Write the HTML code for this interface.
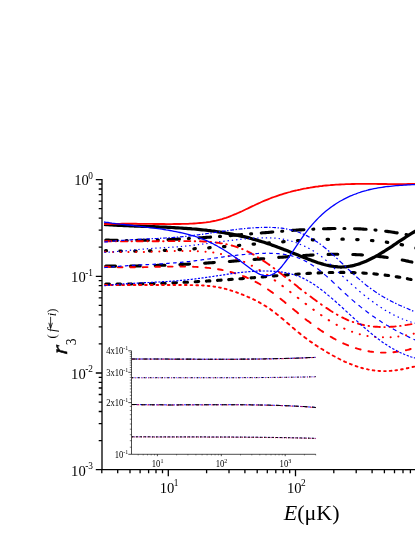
<!DOCTYPE html>
<html><head><meta charset="utf-8"><title>r3 vs E</title>
<style>
html,body{margin:0;padding:0;background:#fff;}
body{width:415px;height:537px;overflow:hidden;}
svg{display:block;font-family:"Liberation Serif",serif;will-change:transform;}
text{fill:#000;}
</style></head><body>
<svg width="415" height="537" viewBox="0 0 415 537">
<rect width="415" height="537" fill="#fff"/>
<g fill="none" stroke-linejoin="round">
<path d="M105.8 240.1L107.3 240.1L108.7 240.1L110.1 240.2L111.5 240.2L113 240.3L114.4 240.3L115.8 240.3L117.3 240.4M126.2 240.5L127.2 240.5M136.9 240.4L138.4 240.4L139.8 240.4L141.2 240.4L142.6 240.4L144.1 240.3L145.5 240.3L146.9 240.3L148.4 240.3M157.3 240L158.3 240M168 239.6L169.5 239.6L170.9 239.5L172.3 239.4L173.7 239.4L175.2 239.3L176.6 239.2L178 239.1L179.5 239.1M188.4 238.6L189.4 238.5M199.1 237.9L200.6 237.8L202 237.7L203.4 237.6L204.8 237.5L206.3 237.4L207.7 237.3L209.1 237.2L210.6 237.1M219.5 236.4L220.5 236.4M230.2 235.6L231.7 235.5L233.1 235.3L234.5 235.2L235.9 235.1L237.4 235L238.8 234.9L240.2 234.8L241.7 234.6M250.6 233.9L251.6 233.8M261.3 233L262.8 232.8L264.2 232.7L265.6 232.6L267 232.5L268.5 232.4L269.9 232.2L271.3 232.1L272.8 232M281.7 231.3L282.7 231.2M292.4 230.4L293.9 230.3L295.3 230.2L296.7 230.1L298.1 230L299.6 229.9L301 229.9L302.4 229.8L303.9 229.7M312.8 229.2L313.8 229.1M323.5 228.7L325 228.7L326.4 228.7L327.8 228.6L329.2 228.6L330.7 228.6L332.1 228.5L333.5 228.5L335 228.5M343.9 228.5L344.9 228.5M354.6 228.7L356.1 228.8L357.5 228.8L358.9 228.9L360.4 228.9L361.8 229L363.2 229.1L364.6 229.2L366.1 229.3M375 230L376 230.1M385.7 231.2L387.2 231.4L388.6 231.6L390 231.8L391.5 232L392.9 232.2L394.3 232.4L395.7 232.7L397.2 232.9M406.1 234.6L407.1 234.8M416.6 237L416.7 237" stroke="#000" stroke-width="3.1" stroke-linecap="round"/>
<path d="M105.6 250.7L106.5 250.7M119.9 251L121.3 251.1M134.7 251.1L136.1 251.1M149.5 250.9L150.9 250.8M164.3 250.4L165.7 250.3M179.1 249.7L180.5 249.6M193.9 248.8L195.3 248.7M208.7 247.8L210.1 247.7M223.5 246.7L224.9 246.6M238.3 245.5L239.7 245.4M253.1 244.2L254.5 244.1M267.9 243L269.3 242.9M282.7 241.8L284.1 241.7M297.5 240.7L298.9 240.6M312.3 239.8L313.7 239.8M327.1 239.3L328.5 239.3M341.9 239.2L343.3 239.2M356.7 239.6L358.1 239.6M371.5 240.5L372.9 240.7M386.3 242.2L387.7 242.4M401.1 244.6L402.5 244.9M415.9 248L416.5 248.1" stroke="#000" stroke-width="3.2" stroke-linecap="round"/>
<path d="M105.8 266L107.2 266L108.6 266L110 266.1L111.3 266.1L112.7 266.1L114.1 266.1L115.5 266.1M130.5 266L131.9 266L133.3 266L134.7 266L136 266L137.4 266L138.8 265.9L140.2 265.9M155.2 265.5L156.6 265.5L158 265.4L159.4 265.4L160.7 265.3L162.1 265.3L163.5 265.2L164.9 265.2M179.9 264.5L181.3 264.5L182.7 264.4L184.1 264.3L185.4 264.3L186.8 264.2L188.2 264.1L189.6 264M204.6 263.2L206 263.1L207.4 263L208.8 262.9L210.1 262.8L211.5 262.7L212.9 262.6L214.3 262.5M229.3 261.5L230.7 261.4L232.1 261.2L233.5 261.1L234.8 261L236.2 260.9L237.6 260.8L239 260.7M254 259.5L255.4 259.4L256.8 259.3L258.2 259.2L259.5 259.1L260.9 258.9L262.3 258.8L263.7 258.7M278.7 257.4L280.1 257.3L281.5 257.2L282.9 257.1L284.2 257L285.6 256.9L287 256.8L288.4 256.6M303.4 255.5L304.8 255.5L306.2 255.4L307.6 255.3L308.9 255.2L310.3 255.1L311.7 255.1L313.1 255M328.1 254.4L329.5 254.4L330.9 254.3L332.3 254.3L333.6 254.3L335 254.3L336.4 254.3L337.8 254.3M352.8 254.5L354.2 254.5L355.6 254.6L357 254.7L358.3 254.7L359.7 254.8L361.1 254.9L362.5 255M377.5 256.3L378.9 256.4L380.3 256.6L381.7 256.8L383 256.9L384.4 257.1L385.8 257.3L387.2 257.5M402.2 260L403.6 260.3L405 260.6L406.4 260.9L407.7 261.1L409.1 261.5L410.5 261.8L411.9 262.1" stroke="#000" stroke-width="3.1" stroke-linecap="round"/>
<path d="M105.8 284L107 284L108.2 284L109.4 284.1M117 284.1L118.2 284.1L119.4 284.1L120.5 284.1M128.2 284.1L129.4 284L130.5 284L131.7 284M139.4 283.9L140.5 283.9L141.7 283.9L142.9 283.8M150.5 283.7L151.7 283.6L152.9 283.6L154 283.6M161.7 283.3L162.9 283.3L164 283.2L165.2 283.2M172.9 282.9L174 282.8L175.2 282.8L176.4 282.7M184 282.3L185.2 282.3L186.4 282.2L187.5 282.2M195.2 281.8L196.4 281.7L197.5 281.6L198.7 281.5M206.4 281.1L207.5 281L208.7 280.9L209.9 280.9M217.5 280.4L218.7 280.3L219.9 280.2L221.1 280.1M228.7 279.6L229.9 279.5L231.1 279.4L232.2 279.3M239.9 278.7L241.1 278.7L242.2 278.6L243.4 278.5M251.1 277.9L252.2 277.8L253.4 277.7L254.6 277.6M262.2 277L263.4 276.9L264.6 276.8L265.7 276.7M273.4 276L274.6 275.9L275.7 275.8L276.9 275.7M284.6 275.1L285.7 275L286.9 274.9L288.1 274.8M295.7 274.3L296.9 274.2L298.1 274.1L299.2 274M306.9 273.5L308.1 273.4L309.2 273.4L310.4 273.3M318.1 272.9L319.2 272.9L320.4 272.8L321.6 272.8M329.2 272.5L330.4 272.5L331.6 272.5L332.8 272.5M340.4 272.4L341.6 272.4L342.8 272.4L343.9 272.4M351.6 272.5L352.8 272.6L353.9 272.6L355.1 272.7M362.8 273L363.9 273.1L365.1 273.2L366.3 273.2M373.9 273.8L375.1 274L376.3 274.1L377.4 274.2M385.1 275.1L386.3 275.2L387.4 275.4L388.6 275.5M396.2 276.7L397.4 276.9L398.6 277.1L399.8 277.3M407.4 278.7L408.6 279L409.8 279.2L411 279.5M417.5 280.9L417.6 281" stroke="#000" stroke-width="3.1" stroke-linecap="round"/>
<path d="M104 224.5L106 224.6L108 224.7L110 224.9L112 225L114 225.1L116 225.2L118 225.3L120 225.4L122 225.5L124 225.6L126 225.7L128 225.7L130 225.8L132 225.9L134 226L136 226L138 226.1L140 226.2L142 226.3L144 226.3L146 226.4L148 226.5L150 226.6L152 226.6L154 226.7L156 226.8L158 226.9L160 227L162 227L164 227.1L166 227.2L168 227.3L170 227.4L172 227.5L174 227.6L176 227.8L178 227.9L180 228L182 228.1L184 228.3L186 228.4L188 228.6L190 228.7L192 228.9L194 229L196 229.2L198 229.4L200 229.6L202 229.8L204 230L206 230.2L208 230.5L210 230.7L212 231L214 231.2L216 231.5L218 231.8L220 232.1L222 232.4L224 232.7L226 233.1L228 233.4L230 233.8L232 234.2L234 234.6L236 235L238 235.4L240 235.8L242 236.3L244 236.7L246 237.2L248 237.7L250 238.2L252 238.8L254 239.3L256 239.9L258 240.5L260 241.1L262 241.7L264 242.3L266 243L268 243.7L270 244.3L272 245.1L274 245.8L276 246.5L278 247.3L280 248L282 248.8L284 249.6L286 250.3L288 251.1L290 251.9L292 252.7L294 253.5L296 254.3L298 255.1L300 255.9L302 256.7L304 257.5L306 258.3L308 259.1L310 259.8L312 260.6L314 261.3L316 262L318 262.7L320 263.3L322 263.9L324 264.5L326 265L328 265.4L330 265.8L332 266.2L334 266.5L336 266.7L338 266.9L340 267L342 267L344 266.9L346 266.8L348 266.5L350 266.2L352 265.8L354 265.4L356 264.8L358 264.2L360 263.6L362 262.8L364 262L366 261.2L368 260.3L370 259.3L372 258.3L374 257.3L376 256.2L378 255.1L380 253.9L382 252.7L384 251.5L386 250.2L388 248.9L390 247.6L392 246.3L394 244.9L396 243.6L398 242.2L400 240.9L402 239.6L404 238.3L406 237L408 235.7L410 234.4L412 233.2L414 232L416 230.9L418 229.8" stroke="#000" stroke-width="3.25"/>
<path d="M105.2 241.2L106.7 241.3L108.2 241.3L109.8 241.3L111.3 241.3M115.7 241.3L116.2 241.3M121 241.4L122.5 241.4L124 241.4L125.6 241.4L127.1 241.4M131.5 241.3L132 241.3M136.8 241.3L138.3 241.3L139.8 241.3L141.4 241.3L142.9 241.3M147.3 241.3L147.8 241.3M152.6 241.2L154.1 241.2L155.6 241.2L157.2 241.2L158.7 241.2M163.1 241.2L163.6 241.2M168.4 241.1L169.9 241.1L171.4 241.1L173 241.1L174.5 241.1M178.9 241.1L179.4 241.1M184.2 241.1L185.7 241.1L187.2 241.1L188.8 241.1L190.3 241.1M194.7 241.2L195.2 241.2M200 241.3L201.5 241.4L203.1 241.5L204.6 241.5L206.1 241.6M210.5 242L211 242M215.8 242.5L217.3 242.7L218.9 242.9L220.4 243.2L221.9 243.4M226.3 244.3L226.8 244.4M231.6 245.5L233.1 245.9L234.7 246.4L236.2 246.9L237.7 247.4M242.1 249L242.6 249.2M247.3 251.3L248.9 252.1L250.5 252.9L252 253.8L253.6 254.6M257.8 257.2L258.5 257.6M263.1 260.6L264.7 261.6L266.3 262.7L267.8 263.8L269.4 264.9M273.6 268L274.3 268.5M278.9 271.9L280.5 273.2L282.1 274.4L283.6 275.7L285.2 276.9M289.3 280.1L290.2 280.8M294.6 284.3L295.9 285.3L297.2 286.3L298.5 287.4L299.8 288.4L301.1 289.4M305.2 292.6L305.9 293.2M310.5 296.6L312.1 297.8L313.7 299L315.2 300.1L316.8 301.3M321 304.2L321.7 304.8M326.3 307.9L327.9 308.9L329.5 310L331 311L332.6 312M336.8 314.5L337.5 314.9M342.2 317.4L343.7 318.2L345.3 318.9L346.8 319.6L348.3 320.3M352.7 321.9L353.2 322.1M358 323.6L359.5 324.1L361.1 324.4L362.6 324.8L364.1 325.1M368.5 325.9L369 326M373.8 326.6L375.3 326.7L376.9 326.8L378.4 326.9L379.9 327M384.3 327.1L384.8 327.1M389.6 326.9L391.1 326.8L392.7 326.7L394.2 326.6L395.7 326.4M400.1 325.9L400.6 325.9M405.4 325.1L406.9 324.9L408.5 324.6L410 324.4L411.5 324.1M415.9 323.1L416.4 323" stroke="#f00" stroke-width="1.9" stroke-linecap="round"/>
<path d="M105.3 251.8L105.4 251.8M113 252L113.1 252M120.7 252.1L120.8 252.1M128.4 252.1L128.5 252.1M136.1 252.1L136.2 252.1M143.8 252L144 252M151.6 251.8L151.7 251.8M159.3 251.5L159.4 251.5M167 251.3L167.1 251.3M174.7 251.1L174.8 251.1M182.4 251L182.5 251M190.1 251L190.2 251M197.8 251.2L197.9 251.2M205.5 251.7L205.6 251.7M213.2 252.6L213.4 252.6M220.9 254L221.1 254M228.6 256L228.8 256.1M236.3 258.6L236.5 258.7M244 261.9L244.3 262M251.7 265.7L252 265.8M259.4 270L259.7 270.2M267 274.9L267.5 275.2M274.7 280.2L275.2 280.6M282.4 285.9L282.9 286.3M290.1 291.8L290.6 292.2M297.8 297.7L298.4 298.2M305.6 303.7L306.1 304.1M313.3 309.5L313.8 309.9M321 315L321.5 315.3M328.7 320.1L329.1 320.4M336.5 324.7L336.8 324.9M344.2 328.6L344.5 328.7M352 331.8L352.2 331.8M359.7 334.2L359.9 334.2M367.4 335.9L367.6 335.9M375.1 336.9L375.3 336.9M382.9 337.3L383 337.3M390.6 337.2L390.7 337.2M398.3 336.5L398.4 336.5M406 335.3L406.1 335.3M413.7 333.7L413.8 333.6" stroke="#f00" stroke-width="2.0" stroke-linecap="round"/>
<path d="M105.2 266.6L106.8 266.7L108.4 266.8L110 266.9M117.8 267.2L119.3 267.2L120.9 267.2L122.5 267.3M130.3 267.3L131.9 267.3L133.4 267.3L135 267.3M142.8 267.2L144.4 267.1L146 267.1L147.5 267.1M155.4 266.9L156.9 266.8L158.5 266.8L160.1 266.8M167.9 266.6L169.5 266.6L171 266.6L172.6 266.6M180.4 266.5L182 266.6L183.6 266.6L185.1 266.6M193 266.8L194.5 266.9L196.1 266.9L197.7 267M205.5 267.6L207.1 267.8L208.6 267.9L210.2 268.1M218 269.2L219.6 269.5L221.2 269.8L222.7 270.1M230.5 272L232.1 272.4L233.7 272.9L235.3 273.4M243 276.1L244.2 276.5L245.4 277L246.6 277.5L247.9 278.1M255.5 281.8L256.7 282.4L258 283.1L259.2 283.8L260.4 284.5M268 289.4L269.2 290.3L270.5 291.2L271.8 292.1L273 293M280.5 298.7L281.7 299.7L283 300.8L284.3 301.8L285.6 302.9M293 309L294.3 310L295.5 311.1L296.8 312.1L298.1 313.2M305.5 319.2L306.8 320.2L308.1 321.1L309.4 322.1L310.6 323.1M318.1 328.5L319.4 329.4L320.6 330.3L321.9 331.1L323.1 331.9M330.7 336.7L331.9 337.4L333.1 338.1L334.4 338.8L335.6 339.5M343.2 343.3L344.5 343.9L345.7 344.4L346.9 344.9L348.1 345.4M355.8 348.2L357.4 348.7L359 349.1L360.6 349.5M368.4 351.2L369.9 351.5L371.5 351.7L373.1 351.9M380.9 352.6L382.5 352.6L384 352.6L385.6 352.6M393.4 352.2L395 352L396.6 351.9L398.1 351.6M405.9 350.2L407.5 349.9L409.1 349.5L410.7 349M417.7 346.9L417.8 346.9" stroke="#f00" stroke-width="1.9" stroke-linecap="round"/>
<path d="M105.2 285L106.1 285L107 285M110.9 285L111.8 285L112.6 285M116.6 285L117.5 285L118.3 285M122.3 285L123.2 285L124 285M128 285L128.9 285L129.7 285M133.7 285L134.6 285L135.4 285M139.4 285L140.2 285L141.1 285M145.1 285L145.9 285L146.8 285M150.8 285L151.6 285L152.5 285M156.5 285L157.3 285L158.2 285M162.1 285L163 285L163.9 285M167.8 285L168.7 285L169.5 285M173.5 285L174.4 285L175.2 285M179.2 285L180.1 285L180.9 285M184.9 285L185.8 285L186.6 285M190.6 285.1L191.4 285.1L192.3 285.1M196.3 285.2L197.1 285.2L198 285.3M202 285.4L202.8 285.5L203.7 285.5M207.7 285.9L208.5 286L209.4 286M213.4 286.5L214.2 286.6L215.1 286.8M219 287.4L219.9 287.6L220.8 287.8M224.7 288.7L225.6 288.9L226.5 289.2M230.4 290.3L231.3 290.6L232.2 290.9M236.1 292.2L237 292.5L237.9 292.9M241.7 294.3L242.7 294.7L243.6 295.1M247.4 296.7L248.3 297.1L249.3 297.5M253.1 299.2L254 299.7L255 300.1M258.8 302.1L259.7 302.6L260.7 303.2M264.4 305.4L265.4 306L266.4 306.6M270.1 309.1L271.1 309.9L272.1 310.6M275.7 313.3L276.8 314.2L277.9 315M281.4 317.9L282.5 318.8L283.6 319.7M287.1 322.8L288.2 323.7L289.3 324.6M292.8 327.7L293.9 328.6L294.9 329.5M298.5 332.5L299.6 333.3L300.6 334.2M304.2 337L305.2 337.8L306.3 338.6M309.9 341.2L310.9 341.9L312 342.6M315.6 345.1L316.6 345.8L317.6 346.4M321.3 348.7L322.3 349.3L323.3 349.9M327 352.2L328 352.8L329 353.3M332.7 355.5L333.7 356L334.7 356.5M338.4 358.5L339.4 359L340.3 359.5M344.1 361.3L345.1 361.8L346 362.2M349.9 363.8L350.8 364.2L351.7 364.5M355.6 366L356.5 366.3L357.4 366.6M361.3 367.8L362.1 368L363 368.3M367 369.2L367.8 369.4L368.7 369.6M372.7 370.3L373.5 370.4L374.4 370.5M378.4 370.9L379.2 371L380.1 371M384.1 371.1L384.9 371.1L385.8 371.1M389.7 370.9L390.6 370.9L391.5 370.8M395.4 370.4L396.3 370.2L397.1 370.1M401.1 369.5L402 369.3L402.8 369.2M406.8 368.3L407.7 368.2L408.5 368M412.5 367L413.4 366.8L414.2 366.6M417.6 365.7L417.7 365.7" stroke="#f00" stroke-width="1.9" stroke-linecap="round"/>
<path d="M104 224.2L106 224.1L108 224L110 224L112 223.9L114 223.9L116 223.8L118 223.8L120 223.8L122 223.7L124 223.7L126 223.7L128 223.7L130 223.7L132 223.7L134 223.7L136 223.7L138 223.8L140 223.8L142 223.8L144 223.8L146 223.9L148 223.9L150 223.9L152 223.9L154 224L156 224L158 224L160 224L162 224L164 224L166 224.1L168 224.1L170 224.1L172 224.1L174 224L176 224L178 224L180 224L182 223.9L184 223.9L186 223.8L188 223.8L190 223.7L192 223.6L194 223.5L196 223.4L198 223.2L200 223L202 222.9L204 222.6L206 222.4L208 222.1L210 221.8L212 221.4L214 221L216 220.6L218 220.1L220 219.6L222 219.1L224 218.4L226 217.8L228 217.1L230 216.3L232 215.5L234 214.7L236 213.9L238 213L240 212.1L242 211.2L244 210.2L246 209.3L248 208.4L250 207.4L252 206.4L254 205.5L256 204.5L258 203.6L260 202.7L262 201.8L264 200.9L266 200.1L268 199.3L270 198.5L272 197.7L274 197L276 196.3L278 195.6L280 194.9L282 194.3L284 193.7L286 193.1L288 192.5L290 192L292 191.4L294 190.9L296 190.5L298 190L300 189.6L302 189.1L304 188.7L306 188.4L308 188L310 187.7L312 187.3L314 187L316 186.7L318 186.5L320 186.2L322 186L324 185.7L326 185.5L328 185.3L330 185.2L332 185L334 184.8L336 184.7L338 184.6L340 184.5L342 184.4L344 184.3L346 184.2L348 184.1L350 184.1L352 184L354 184L356 183.9L358 183.9L360 183.9L362 183.9L364 183.9L366 183.9L368 183.9L370 183.9L372 183.9L374 183.9L376 183.9L378 184L380 184L382 184L384 184L386 184L388 184.1L390 184.1L392 184.1L394 184.1L396 184.1L398 184.1L400 184.1L402 184.1L404 184.1L406 184.1L408 184L410 184L412 184L414 183.9L416 183.9L418 183.8" stroke="#f00" stroke-width="1.8"/>
<path d="M104.3 242.1L105.5 241.9L106.8 241.8L108 241.6M109.6 241.5L110.9 241.3M112.7 241.2L113.9 241L115.2 240.9L116.4 240.8M118 240.7L119.3 240.6M121.1 240.4L122.3 240.4L123.6 240.3L124.8 240.2M126.4 240.1L127.7 240M129.5 239.9L130.7 239.8L132 239.7L133.2 239.7M134.8 239.6L136.1 239.5M137.9 239.4L139.1 239.4L140.4 239.3L141.6 239.2M143.2 239.2L144.5 239.1M146.3 239L147.5 238.9L148.8 238.9L150 238.8M151.6 238.7L152.9 238.7M154.7 238.6L155.9 238.5L157.2 238.5L158.4 238.4M160 238.3L161.3 238.2M163.1 238.1L164.3 238.1L165.6 238L166.8 237.9M168.4 237.8L169.7 237.7M171.5 237.6L172.7 237.5L174 237.4L175.2 237.3M176.8 237.2L178.1 237.1M179.9 236.9L181.1 236.8L182.4 236.7L183.6 236.6M185.2 236.4L186.5 236.3M188.3 236.1L189.5 235.9L190.8 235.8L192 235.6M193.6 235.4L194.9 235.2M196.7 235L197.9 234.8L199.2 234.7L200.4 234.5M202 234.3L203.3 234.1M205.1 233.8L206.3 233.7L207.6 233.5L208.8 233.3M210.4 233.1L211.7 232.9M213.5 232.6L214.7 232.4L216 232.3L217.2 232.1M218.8 231.8L220.1 231.6M221.9 231.4L223.1 231.2L224.4 231L225.6 230.9M227.2 230.6L228.5 230.5M230.3 230.2L231.5 230.1L232.8 229.9L234 229.8M235.6 229.6L236.9 229.4M238.7 229.2L239.9 229L241.2 228.9L242.4 228.8M244 228.6L245.3 228.5M247.1 228.3L248.3 228.2L249.6 228.1L250.8 228M252.4 227.9L253.7 227.8M255.5 227.7L256.7 227.6L258 227.6L259.2 227.5M260.8 227.5L262.1 227.4M263.9 227.4L265.1 227.4L266.4 227.4L267.6 227.4M269.2 227.4L270.5 227.4M272.3 227.5L273.5 227.5L274.8 227.6L276 227.7M277.6 227.8L278.9 227.9M280.7 228.1L281.9 228.2L283.2 228.4L284.4 228.6M286 228.9L287.3 229.1M289.1 229.5L290.3 229.8L291.6 230.1L292.8 230.4M294.4 230.8L295.7 231.2M297.5 231.8L298.7 232.3L300 232.7L301.2 233.2M302.8 233.9L304.1 234.5M305.9 235.3L307.1 235.9L308.4 236.6L309.6 237.2M311.2 238.2L312.5 238.9M314.3 240.1L315.5 240.9L316.8 241.7L318 242.5M319.6 243.7L320.9 244.6M322.7 246L323.9 247L325.2 248L326.4 249M328 250.4L329.3 251.5M331.1 253.1L332.3 254.2L333.6 255.3L334.8 256.4M336.4 257.9L337.7 259.1M339.5 260.8L340.7 262L342 263.2L343.2 264.4M344.8 265.9L346.1 267.1M347.9 268.8L349.1 270L350.4 271.2L351.6 272.3M353.2 273.8L354.5 275M356.3 276.7L357.5 277.8L358.8 278.9L360 279.9M361.6 281.3L362.9 282.4M364.7 283.9L365.9 284.9L367.2 285.9L368.4 286.8M370 288L371.3 289M373.1 290.3L374.3 291.1L375.6 292L376.8 292.8M378.4 293.8L379.7 294.7M381.5 295.8L382.7 296.5L384 297.2L385.2 297.9M386.8 298.8L388.1 299.5M389.9 300.5L391.1 301.1L392.4 301.7L393.6 302.4M395.2 303.1L396.5 303.8M398.3 304.6L399.5 305.2L400.8 305.7L402 306.3M403.6 307L404.9 307.5M406.7 308.3L407.9 308.8L409.2 309.4L410.4 309.9M412 310.6L413.3 311.1M415.1 311.9L416.5 312.5L418 313.1" stroke="#00f" stroke-width="1.2"/>
<path d="M104.3 252.4L105.6 252.3M108.5 252.1L109.8 252.1M112.8 251.9L114.1 251.8M117 251.5L118.3 251.4M121.3 251.1L122.6 251M125.5 250.8L126.8 250.6M129.8 250.3L131.1 250.2M134.1 249.9L135.4 249.8M138.3 249.5L139.6 249.4M142.6 249.2L143.9 249.1M146.8 248.8L148.1 248.7M151.1 248.5L152.4 248.4M155.3 248.2L156.6 248.2M159.6 248L160.9 247.9M163.8 247.7L165.1 247.6M168.1 247.5L169.4 247.4M172.3 247.2L173.6 247.1M176.6 246.9L177.9 246.8M180.8 246.5L182.1 246.4M185.1 246.2L186.4 246M189.3 245.7L190.6 245.6M193.6 245.2L194.9 245.1M197.8 244.7L199.1 244.6M202.1 244.2L203.4 244M206.3 243.6L207.6 243.5M210.6 243.1L211.9 242.9M214.8 242.5L216.1 242.3M219.1 241.9L220.4 241.7M223.3 241.3L224.6 241.2M227.6 240.8L228.9 240.6M231.8 240.3L233.1 240.1M236.1 239.8L237.4 239.6M240.3 239.3L241.6 239.2M244.6 238.9L245.9 238.8M248.8 238.6L250.1 238.5M253.1 238.3L254.4 238.2M257.3 238.1L258.6 238M261.6 237.9L262.9 237.9M265.8 237.9L267.1 237.9M270.1 237.9L271.4 238M274.3 238.1L275.6 238.2M278.6 238.5L279.9 238.7M282.8 239.1L284.1 239.4M287.1 240L288.4 240.3M291.3 241.1L292.6 241.5M295.6 242.5L296.9 243M299.8 244.2L301.1 244.7M304.1 246L305.4 246.6M308.3 248.1L309.6 248.8M312.6 250.5L313.9 251.3M316.8 253.2L318.1 254.1M321.1 256.3L322.4 257.3M325.3 259.8L326.6 260.9M329.6 263.7L330.9 264.9M333.8 267.7L335.1 269M338.1 271.8L339.4 273.1M342.3 275.9L343.6 277.1M346.6 279.8L347.9 281M350.8 283.6L352.1 284.8M355.1 287.4L356.4 288.5M359.3 291.1L360.6 292.2M363.6 294.6L364.9 295.7M367.8 298L369.1 299M372.1 301.2L373.4 302.2M376.3 304.3L377.6 305.2M380.6 307.2L381.9 308.1M384.8 309.9L386.1 310.7M389.1 312.4L390.4 313.1M393.3 314.7L394.6 315.4M397.6 316.8L398.9 317.4M401.8 318.7L403.1 319.2M406.1 320.3L407.4 320.8M410.3 321.8L411.6 322.2M414.6 323.1L415.9 323.4" stroke="#00f" stroke-width="1.2"/>
<path d="M104.3 267.7L105.5 267.5L106.7 267.4L107.9 267.3M111.2 267L112.4 266.9L113.6 266.7L114.8 266.6M118 266.4L119.2 266.3L120.4 266.2L121.6 266.1M124.9 265.9L126.1 265.8L127.3 265.7L128.5 265.6M131.8 265.4L133 265.4L134.2 265.3L135.4 265.2M138.7 265.1L139.9 265L141.1 264.9L142.3 264.9M145.5 264.7L146.7 264.6L147.9 264.6L149.1 264.5M152.4 264.3L153.6 264.3L154.8 264.2L156 264.1M159.3 263.9L160.5 263.9L161.7 263.8L162.9 263.7M166.1 263.5L167.3 263.4L168.5 263.3L169.7 263.2M173 263L174.2 262.9L175.4 262.8L176.6 262.7M179.9 262.4L181.1 262.3L182.3 262.2L183.5 262.1M186.7 261.7L187.9 261.6L189.1 261.5L190.3 261.3M193.6 260.9L194.8 260.8L196 260.6L197.2 260.5M200.5 260.1L201.7 259.9L202.9 259.7L204.1 259.6M207.4 259.1L208.6 259L209.8 258.8L211 258.6M214.2 258.2L215.4 258L216.6 257.8L217.8 257.7M221.1 257.2L222.3 257.1L223.5 256.9L224.7 256.7M228 256.3L229.2 256.2L230.4 256L231.6 255.9M234.8 255.5L236 255.3L237.2 255.2L238.4 255.1M241.7 254.7L242.9 254.6L244.1 254.5L245.3 254.4M248.6 254.1L249.8 254L251 253.9L252.2 253.8M255.4 253.6L256.6 253.6L257.8 253.5L259 253.4M262.3 253.3L263.5 253.3L264.7 253.3L265.9 253.2M269.2 253.2L270.4 253.3L271.6 253.3L272.8 253.3M276.1 253.5L277.3 253.6L278.5 253.7L279.7 253.8M282.9 254.2L284.1 254.3L285.3 254.5L286.5 254.7M289.8 255.4L291 255.7L292.2 256L293.4 256.3M296.7 257.4L297.9 257.8L299.1 258.3L300.3 258.7M303.5 260.2L304.7 260.8L305.9 261.4L307.1 262M310.4 263.9L311.6 264.7L312.8 265.5L314 266.3M317.3 268.6L318.5 269.5L319.7 270.4L320.9 271.3M324.1 274.1L325.3 275.1L326.5 276.1L327.7 277.2M331 280.2L332.2 281.3L333.4 282.5L334.6 283.6M337.9 286.7L339.1 287.9L340.3 289L341.5 290.2M344.8 293.2L346 294.3L347.2 295.4L348.4 296.5M351.6 299.4L352.8 300.4L354 301.4L355.2 302.5M358.5 305.2L359.7 306.1L360.9 307.1L362.1 308.1M365.4 310.6L366.6 311.5L367.8 312.4L369 313.3M372.2 315.7L373.4 316.5L374.6 317.3L375.8 318.2M379.1 320.4L380.3 321.1L381.5 321.9L382.7 322.7M386 324.7L387.2 325.4L388.4 326.1L389.6 326.9M392.8 328.7L394 329.4L395.2 330.1L396.4 330.7M399.7 332.4L400.9 333.1L402.1 333.7L403.3 334.3M406.6 335.9L407.8 336.5L409 337.1L410.2 337.7M413.5 339.2L414.7 339.8L415.9 340.3L417.1 340.9" stroke="#00f" stroke-width="1.2"/>
<path d="M104.3 285.7L105.3 285.6L106.4 285.5M107.9 285.3L108.9 285.2L110 285.1M111.5 284.9L112.5 284.8L113.6 284.7M115.1 284.6L116.1 284.5L117.2 284.4M118.7 284.3L119.7 284.2L120.8 284.1M122.3 284L123.3 283.9L124.4 283.9M125.9 283.8L126.9 283.7L128 283.6M129.5 283.5L130.5 283.5L131.6 283.4M133.1 283.3L134.1 283.3L135.2 283.2M136.7 283.1L137.7 283.1L138.8 283M140.3 282.9L141.3 282.9L142.4 282.8M143.9 282.7L144.9 282.7L146 282.6M147.5 282.6L148.5 282.5L149.6 282.5M151.1 282.4L152.1 282.3L153.2 282.3M154.7 282.2L155.7 282.1L156.8 282.1M158.3 282L159.3 282L160.4 281.9M161.9 281.8L162.9 281.7L164 281.7M165.5 281.6L166.5 281.5L167.6 281.5M169.1 281.4L170.1 281.3L171.2 281.2M172.7 281.1L173.7 281L174.8 281M176.3 280.8L177.3 280.8L178.4 280.7M179.9 280.5L180.9 280.4L182 280.3M183.5 280.2L184.5 280.1L185.6 280M187.1 279.8L188.1 279.7L189.2 279.6M190.7 279.4L191.7 279.3L192.8 279.2M194.3 279L195.3 278.9L196.4 278.7M197.9 278.5L198.9 278.4L200 278.3M201.5 278.1L202.5 277.9L203.6 277.8M205.1 277.6L206.1 277.4L207.2 277.3M208.7 277.1L209.7 276.9L210.8 276.8M212.3 276.5L213.3 276.4L214.4 276.2M215.9 276L216.9 275.8L218 275.7M219.5 275.5L220.5 275.3L221.6 275.2M223.1 274.9L224.1 274.8L225.2 274.6M226.7 274.4L227.7 274.2L228.8 274.1M230.3 273.9L231.3 273.7L232.4 273.6M233.9 273.4L234.9 273.2L236 273.1M237.5 272.9L238.5 272.7L239.6 272.6M241.1 272.4L242.1 272.3L243.2 272.2M244.7 272.1L245.7 272L246.8 271.9M248.3 271.7L249.3 271.6L250.4 271.6M251.9 271.5L252.9 271.4L254 271.3M255.5 271.3L256.5 271.2L257.6 271.2M259.1 271.1L260.1 271.1L261.2 271.1M262.7 271L263.7 271L264.8 271M266.3 271L267.3 271L268.4 271.1M269.9 271.1L270.9 271.1L272 271.2M273.5 271.3L274.5 271.3L275.6 271.4M277.1 271.5L278.1 271.6L279.2 271.7M280.7 271.9L281.7 272.1L282.8 272.2M284.3 272.5L285.3 272.7L286.4 272.9M287.9 273.2L288.9 273.4L290 273.7M291.5 274.1L292.5 274.3L293.6 274.7M295.1 275.1L296.1 275.5L297.2 275.9M298.7 276.4L299.8 276.8L300.8 277.3M302.3 277.9L303.4 278.4L304.4 278.9M305.9 279.7L307 280.3L308 280.9M309.5 281.7L310.6 282.3L311.6 283M313.1 283.9L314.2 284.6L315.2 285.3M316.7 286.4L317.8 287.1L318.8 287.9M320.3 289L321.4 289.8L322.4 290.6M323.9 291.8L325 292.6L326 293.5M327.5 294.7L328.6 295.6L329.6 296.4M331.1 297.7L332.2 298.6L333.2 299.5M334.7 300.8L335.8 301.8L336.8 302.7M338.3 304L339.4 305L340.4 305.9M341.9 307.3L343 308.3L344 309.2M345.5 310.6L346.6 311.6L347.6 312.5M349.1 313.9L350.2 314.9L351.2 315.8M352.7 317.2L353.8 318.2L354.8 319.1M356.3 320.5L357.4 321.4L358.4 322.4M359.9 323.7L361 324.7L362 325.6M363.5 326.9L364.6 327.8L365.6 328.7M367.1 330L368.2 330.9L369.2 331.8M370.7 333.1L371.8 333.9L372.8 334.8M374.3 336L375.4 336.8L376.4 337.6M377.9 338.8L379 339.6L380 340.3M381.5 341.4L382.6 342.2L383.6 342.9M385.1 343.9L386.2 344.6L387.2 345.3M388.7 346.3L389.8 346.9L390.8 347.5M392.3 348.4L393.4 349L394.4 349.6M395.9 350.4L397 350.9L398 351.5M399.5 352.2L400.6 352.7L401.6 353.2M403.1 353.8L404.2 354.3L405.2 354.7M406.7 355.3L407.8 355.7L408.8 356.1M410.3 356.6L411.4 357L412.4 357.3M413.9 357.7L415 358L416 358.3M417.5 358.7L418 358.8" stroke="#00f" stroke-width="1.2"/>
<path d="M104 222L106 222.3L108 222.5L110 222.8L112 223.1L114 223.3L116 223.6L118 223.8L120 224.1L122 224.3L124 224.5L126 224.8L128 225L130 225.2L132 225.4L134 225.7L136 225.9L138 226.1L140 226.4L142 226.6L144 226.8L146 227.1L148 227.3L150 227.6L152 227.8L154 228.1L156 228.4L158 228.6L160 228.9L162 229.2L164 229.5L166 229.9L168 230.2L170 230.5L172 230.9L174 231.3L176 231.7L178 232.1L180 232.5L182 232.9L184 233.4L186 233.9L188 234.4L190 234.9L192 235.5L194 236L196 236.7L198 237.3L200 238L202 238.8L204 239.6L206 240.4L208 241.3L210 242.3L212 243.2L214 244.3L216 245.3L218 246.5L220 247.6L222 248.8L224 250L226 251.2L228 252.5L230 253.8L232 255.2L234 256.5L236 257.9L238 259.3L240 260.8L242 262.3L244 263.8L246 265.3L248 266.8L250 268.3L252 269.8L254 271.1L256 272.3L258 273.4L260 274.3L262 275L264 275.5L266 275.7L268 275.7L270 275.3L272 274.6L274 273.6L276 272.2L278 270.5L280 268.5L282 266.2L284 263.7L286 261L288 258.3L290 255.4L292 252.5L294 249.6L296 246.6L298 243.6L300 240.7L302 237.8L304 235L306 232.3L308 229.7L310 227.2L312 224.9L314 222.6L316 220.5L318 218.4L320 216.4L322 214.6L324 212.8L326 211.1L328 209.5L330 207.9L332 206.5L334 205.1L336 203.8L338 202.5L340 201.3L342 200.2L344 199.1L346 198.1L348 197.1L350 196.2L352 195.4L354 194.5L356 193.8L358 193L360 192.4L362 191.7L364 191.1L366 190.6L368 190L370 189.5L372 189.1L374 188.7L376 188.3L378 187.9L380 187.6L382 187.3L384 187L386 186.7L388 186.5L390 186.3L392 186.1L394 185.9L396 185.7L398 185.5L400 185.4L402 185.3L404 185.1L406 185L408 184.9L410 184.8L412 184.7L414 184.6L416 184.5L418 184.4" stroke="#00f" stroke-width="1.3"/>
</g>
<g stroke="#000" fill="none">
<path d="M131.5 350.8V454.3H315.9M128.3 454.3H131.5M128.3 402.6H131.5M128.3 372.3H131.5M128.3 350.8H131.5M157.4 454.3V456.2M221.3 454.3V456.2M285.2 454.3V456.2" stroke-width="0.7"/>
<path d="M129.8 447.2H131.5M129.8 440.7H131.5M129.8 434.7H131.5M129.8 429.2H131.5M129.8 424H131.5M129.8 419.2H131.5M129.8 414.7H131.5M129.8 410.4H131.5M129.8 406.4H131.5M129.8 398.9H131.5M129.8 395.4H131.5M129.8 392.1H131.5M129.8 388.9H131.5M129.8 385.9H131.5M129.8 383H131.5M129.8 380.1H131.5M129.8 377.4H131.5M129.8 374.8H131.5M129.8 369.8H131.5M129.8 367.5H131.5M129.8 365.2H131.5M129.8 362.9H131.5M129.8 360.8H131.5M129.8 358.7H131.5M129.8 356.6H131.5M129.8 354.6H131.5M129.8 352.7H131.5M138.2 454.3V455.4M143.2 454.3V455.4M147.5 454.3V455.4M151.2 454.3V455.4M154.5 454.3V455.4M176.6 454.3V455.4M187.9 454.3V455.4M195.9 454.3V455.4M202.1 454.3V455.4M207.1 454.3V455.4M211.4 454.3V455.4M215.1 454.3V455.4M218.4 454.3V455.4M240.5 454.3V455.4M251.8 454.3V455.4M259.8 454.3V455.4M266 454.3V455.4M271 454.3V455.4M275.3 454.3V455.4M279 454.3V455.4M282.3 454.3V455.4M304.4 454.3V455.4M315.7 454.3V455.4" stroke-width="0.5"/>
</g>
<text transform="translate(128.3,354.3) scale(1,1.16)" text-anchor="end" font-size="8.6">4x10<tspan font-size="6" dy="-3.5">-1</tspan></text>
<text transform="translate(128.3,375.8) scale(1,1.16)" text-anchor="end" font-size="8.6">3x10<tspan font-size="6" dy="-3.5">-1</tspan></text>
<text transform="translate(128.3,406.1) scale(1,1.16)" text-anchor="end" font-size="8.6">2x10<tspan font-size="6" dy="-3.5">-1</tspan></text>
<text transform="translate(128.3,457.8) scale(1,1.16)" text-anchor="end" font-size="8.6">10<tspan font-size="6" dy="-3.5">-1</tspan></text>
<text transform="translate(151.8,467.3) scale(1,1.16)" font-size="8.6">10<tspan font-size="6" dy="-3.5">1</tspan></text>
<text transform="translate(215.7,467.3) scale(1,1.16)" font-size="8.6">10<tspan font-size="6" dy="-3.5">2</tspan></text>
<text transform="translate(279.6,467.3) scale(1,1.16)" font-size="8.6">10<tspan font-size="6" dy="-3.5">3</tspan></text>
<g fill="none">
<path d="M132 359L135.2 359M136.1 359L139.3 359M140.2 359L143.4 359M144.3 359L147.5 359M148.4 359L151.6 359M152.5 359L155.7 359M156.6 359L159.8 359M160.7 359L163.9 359M164.8 359L168 359.1M168.9 359.1L172.1 359.1M173 359.1L176.2 359.1M177.1 359.1L180.3 359.1M181.2 359.1L184.4 359.1M185.3 359.1L188.5 359.1M189.4 359.1L192.6 359.1M193.5 359.1L196.7 359.2M197.6 359.2L200.8 359.2M201.7 359.2L204.9 359.2M205.8 359.2L209 359.2M209.9 359.2L213.1 359.2M214 359.2L217.2 359.2M218.1 359.2L221.3 359.2M222.2 359.2L225.4 359.2M226.3 359.2L229.5 359.2M230.4 359.2L233.6 359.2M234.5 359.2L237.7 359.2M238.6 359.2L241.8 359.1M242.7 359.1L245.9 359.1M246.8 359.1L250 359.1M250.9 359.1L254.1 359M255 359L258.2 359M259.1 359L262.3 358.9M263.2 358.9L266.4 358.9M267.3 358.8L270.5 358.8M271.4 358.8L274.6 358.7M275.5 358.7L278.7 358.6M279.6 358.6L282.8 358.5M283.7 358.5L286.9 358.4M287.8 358.4L291 358.3M291.9 358.2L295.1 358.1M296 358.1L299.2 358M300.1 358L303.3 357.8M304.2 357.8L307.4 357.7M308.3 357.6L311.5 357.5M312.4 357.5L315.6 357.3" stroke="#00f" stroke-opacity="0.95" stroke-width="0.95"/>
<path d="M132 359L134.6 359M135.8 359L136.6 359M138 359L140.6 359M141.8 359L142.5 359M143.9 359L146.6 359M147.8 359L148.5 359M149.9 359L152.5 359M153.8 359L154.5 359M155.9 359L158.5 359M159.7 359L160.4 359M161.8 359L164.5 359M165.7 359L166.4 359M167.8 359.1L170.4 359.1M171.7 359.1L172.4 359.1M173.8 359.1L176.4 359.1M177.6 359.1L178.3 359.1M179.7 359.1L182.4 359.1M183.6 359.1L184.3 359.1M185.7 359.1L188.3 359.1M189.6 359.1L190.3 359.1M191.7 359.1L194.3 359.1M195.5 359.2L196.2 359.2M197.6 359.2L200.3 359.2M201.5 359.2L202.2 359.2M203.6 359.2L206.2 359.2M207.5 359.2L208.2 359.2M209.6 359.2L212.2 359.2M213.4 359.2L214.1 359.2M215.5 359.2L218.2 359.2M219.4 359.2L220.1 359.2M221.5 359.2L224.2 359.2M225.4 359.2L226.1 359.2M227.5 359.2L230.1 359.2M231.3 359.2L232 359.2M233.4 359.2L236.1 359.2M237.3 359.2L238 359.2M239.4 359.1L242.1 359.1M243.3 359.1L244 359.1M245.4 359.1L248 359.1M249.2 359.1L249.9 359.1M251.4 359.1L254 359M255.2 359L255.9 359M257.3 359L260 359M261.2 358.9L261.9 358.9M263.3 358.9L265.9 358.9M267.1 358.8L267.8 358.8M269.3 358.8L271.9 358.8M273.1 358.7L273.8 358.7M275.2 358.7L277.9 358.6M279.1 358.6L279.8 358.6M281.2 358.6L283.8 358.5M285 358.5L285.8 358.4M287.2 358.4L289.8 358.3M291 358.3L291.7 358.3M293.1 358.2L295.8 358.1M297 358.1L297.7 358.1M299.1 358L301.7 357.9M302.9 357.9L303.7 357.8M305.1 357.8L307.7 357.7M308.9 357.6L309.6 357.6M311 357.5L313.7 357.4M314.9 357.3L315.6 357.3" stroke="#f00" stroke-width="0.7" transform="translate(0,0.2)"/>
<path d="M132 359L136.8 359M139 359L140.3 359M142.8 359L147.7 359M149.8 359L151.2 359M153.7 359L158.5 359M160.7 359L162 359M164.5 359L169.3 359.1M171.5 359.1L172.8 359.1M175.4 359.1L180.2 359.1M182.4 359.1L183.7 359.1M186.2 359.1L191 359.1M193.2 359.1L194.5 359.1M197.1 359.2L201.9 359.2M204.1 359.2L205.4 359.2M207.9 359.2L212.7 359.2M214.9 359.2L216.2 359.2M218.8 359.2L223.6 359.2M225.8 359.2L227.1 359.2M229.6 359.2L234.4 359.2M236.6 359.2L237.9 359.2M240.5 359.1L245.3 359.1M247.5 359.1L248.8 359.1M251.3 359.1L256.1 359M258.3 359L259.6 359M262.2 358.9L267 358.8M269.2 358.8L270.5 358.8M273 358.7L277.8 358.6M280 358.6L281.3 358.5M283.9 358.5L288.7 358.3M290.9 358.3L292.2 358.2M294.8 358.2L299.6 358M301.8 357.9L303.1 357.9M305.6 357.8L310.4 357.5M312.6 357.4L313.9 357.4" stroke="#000" stroke-width="1.05"/>
<path d="M132 377.7L133.2 377.7M134.3 377.7L135.5 377.7M136.6 377.7L137.8 377.7M138.9 377.7L140.1 377.7M141.2 377.7L142.4 377.7M143.5 377.7L144.7 377.7M145.8 377.7L147 377.7M148.1 377.7L149.3 377.7M150.4 377.7L151.6 377.7M152.7 377.7L153.9 377.7M155 377.7L156.2 377.7M157.3 377.7L158.5 377.7M159.6 377.7L160.8 377.7M161.9 377.7L163.1 377.7M164.2 377.7L165.4 377.7M166.5 377.7L167.7 377.7M168.8 377.7L170 377.7M171.1 377.7L172.3 377.7M173.4 377.7L174.6 377.7M175.7 377.7L176.9 377.7M178 377.7L179.2 377.7M180.3 377.7L181.5 377.7M182.6 377.7L183.8 377.7M184.9 377.7L186.1 377.7M187.2 377.7L188.4 377.7M189.5 377.7L190.7 377.7M191.8 377.7L193 377.7M194.1 377.7L195.3 377.7M196.4 377.7L197.6 377.7M198.7 377.7L199.9 377.7M201 377.7L202.2 377.7M203.3 377.7L204.5 377.7M205.6 377.7L206.8 377.7M207.9 377.7L209.1 377.7M210.2 377.7L211.4 377.7M212.5 377.7L213.7 377.7M214.8 377.7L216 377.7M217.1 377.7L218.3 377.7M219.4 377.7L220.6 377.7M221.7 377.7L222.9 377.7M224 377.7L225.2 377.7M226.3 377.7L227.5 377.7M228.6 377.7L229.8 377.7M230.9 377.7L232.1 377.7M233.2 377.7L234.4 377.7M235.5 377.7L236.7 377.7M237.8 377.7L239 377.7M240.1 377.7L241.3 377.6M242.4 377.6L243.6 377.6M244.7 377.6L245.9 377.6M247 377.6L248.2 377.6M249.3 377.6L250.5 377.6M251.6 377.6L252.8 377.6M253.9 377.6L255.1 377.6M256.2 377.6L257.4 377.6M258.5 377.6L259.7 377.5M260.8 377.5L262 377.5M263.1 377.5L264.3 377.5M265.4 377.5L266.6 377.5M267.7 377.5L268.9 377.5M270 377.5L271.2 377.4M272.3 377.4L273.5 377.4M274.6 377.4L275.8 377.4M276.9 377.4L278.1 377.4M279.2 377.4L280.4 377.3M281.5 377.3L282.7 377.3M283.8 377.3L285 377.3M286.1 377.3L287.3 377.3M288.4 377.2L289.6 377.2M290.7 377.2L291.9 377.2M293 377.2L294.2 377.1M295.3 377.1L296.5 377.1M297.6 377.1L298.8 377.1M299.9 377.1L301.1 377M302.2 377L303.4 377M304.5 377L305.7 376.9M306.8 376.9L308 376.9M309.1 376.9L310.3 376.8M311.4 376.8L312.6 376.8M313.7 376.8L314.9 376.7" stroke="#00f" stroke-opacity="0.8" stroke-width="0.95"/>
<path d="M132 377.7L132.8 377.7M135.2 377.7L136.1 377.7M138.5 377.7L139.3 377.7M141.7 377.7L142.6 377.7M145 377.7L145.8 377.7M148.2 377.7L149.1 377.7M151.5 377.7L152.3 377.7M154.7 377.7L155.5 377.7M158 377.7L158.8 377.7M161.2 377.7L162 377.7M164.5 377.7L165.3 377.7M167.7 377.7L168.5 377.7M170.9 377.7L171.8 377.7M174.2 377.7L175 377.7M177.4 377.7L178.3 377.7M180.7 377.7L181.5 377.7M183.9 377.7L184.7 377.7M187.2 377.7L188 377.7M190.4 377.7L191.2 377.7M193.7 377.7L194.5 377.7M196.9 377.7L197.7 377.7M200.1 377.7L201 377.7M203.4 377.7L204.2 377.7M206.6 377.7L207.5 377.7M209.9 377.7L210.7 377.7M213.1 377.7L214 377.7M216.4 377.7L217.2 377.7M219.6 377.7L220.4 377.7M222.9 377.7L223.7 377.7M226.1 377.7L226.9 377.7M229.4 377.7L230.2 377.7M232.6 377.7L233.4 377.7M235.8 377.7L236.7 377.7M239.1 377.7L239.9 377.7M242.3 377.6L243.2 377.6M245.6 377.6L246.4 377.6M248.8 377.6L249.6 377.6M252.1 377.6L252.9 377.6M255.3 377.6L256.1 377.6M258.6 377.6L259.4 377.5M261.8 377.5L262.6 377.5M265 377.5L265.9 377.5M268.3 377.5L269.1 377.5M271.5 377.4L272.4 377.4M274.8 377.4L275.6 377.4M278 377.4L278.9 377.4M281.3 377.3L282.1 377.3M284.5 377.3L285.3 377.3M287.8 377.2L288.6 377.2M291 377.2L291.8 377.2M294.3 377.1L295.1 377.1M297.5 377.1L298.3 377.1M300.7 377L301.6 377M304 377L304.8 377M307.2 376.9L308.1 376.9M310.5 376.8L311.3 376.8M313.7 376.8L314.5 376.8" stroke="#f00" stroke-width="0.7" transform="translate(0,0.2)"/>
<path d="M132 377.7L133.5 377.7M137.9 377.7L139.4 377.7M143.8 377.7L145.3 377.7M149.7 377.7L151.2 377.7M155.6 377.7L157.1 377.7M161.5 377.7L163 377.7M167.4 377.7L168.9 377.7M173.3 377.7L174.8 377.7M179.2 377.7L180.7 377.7M185.1 377.7L186.6 377.7M191 377.7L192.5 377.7M196.9 377.7L198.4 377.7M202.8 377.7L204.3 377.7M208.7 377.7L210.2 377.7M214.6 377.7L216.1 377.7M220.5 377.7L222 377.7M226.4 377.7L227.9 377.7M232.3 377.7L233.8 377.7M238.2 377.7L239.7 377.7M244.1 377.6L245.6 377.6M250 377.6L251.5 377.6M255.9 377.6L257.4 377.6M261.8 377.5L263.3 377.5M267.7 377.5L269.2 377.5M273.6 377.4L275.1 377.4M279.5 377.4L281 377.3M285.4 377.3L286.9 377.3M291.3 377.2L292.8 377.2M297.2 377.1L298.7 377.1M303.1 377L304.6 377M309 376.9L310.5 376.8M314.9 376.7L315.9 376.7" stroke="#000" stroke-width="0.95"/>
<path d="M132 404.5L135 404.6M136 404.6L139 404.6M140 404.6L143 404.7M144 404.7L147 404.7M148 404.7L151 404.8M152 404.8L155 404.8M156 404.8L159 404.8M160 404.8L163 404.8M164 404.8L167 404.9M168 404.9L171 404.9M172 404.9L175 404.9M176 404.9L179 404.8M180 404.8L183 404.8M184 404.8L187 404.8M188 404.8L191 404.8M192 404.8L195 404.8M196 404.8L199 404.8M200 404.8L203 404.8M204 404.8L207 404.7M208 404.7L211 404.7M212 404.7L215 404.7M216 404.7L219 404.7M220 404.7L223 404.7M224 404.7L227 404.7M228 404.7L231 404.7M232 404.7L235 404.7M236 404.7L239 404.7M240 404.7L243 404.7M244 404.8L247 404.8M248 404.8L251 404.8M252 404.8L255 404.9M256 404.9L259 404.9M260 405L263 405M264 405L267 405.1M268 405.1L271 405.2M272 405.2L275 405.3M276 405.3L279 405.4M280 405.5L283 405.6M284 405.6L287 405.7M288 405.8L291 405.9M292 406L295 406.1M296 406.2L299 406.3M300 406.4L303 406.5M304 406.6L307 406.8M308 406.9L311 407.1M312 407.1L315 407.4" stroke="#00f" stroke-opacity="0.95" stroke-width="0.95"/>
<path d="M132 404.5L134.5 404.5M136.9 404.6L139.5 404.6M141.9 404.7L144.4 404.7M146.8 404.7L149.4 404.8M151.8 404.8L154.3 404.8M156.7 404.8L159.3 404.8M161.7 404.8L164.2 404.8M166.6 404.9L169.2 404.9M171.6 404.9L174.1 404.9M176.5 404.9L179.1 404.8M181.5 404.8L184 404.8M186.4 404.8L189 404.8M191.4 404.8L193.9 404.8M196.3 404.8L198.9 404.8M201.3 404.8L203.8 404.8M206.2 404.7L208.8 404.7M211.2 404.7L213.7 404.7M216.1 404.7L218.7 404.7M221.1 404.7L223.6 404.7M226 404.7L228.6 404.7M231 404.7L233.5 404.7M235.9 404.7L238.5 404.7M240.9 404.7L243.4 404.8M245.8 404.8L248.4 404.8M250.8 404.8L253.3 404.9M255.7 404.9L258.3 404.9M260.7 405L263.2 405M265.6 405.1L268.2 405.1M270.6 405.2L273.1 405.3M275.5 405.3L278.1 405.4M280.5 405.5L283 405.6M285.4 405.7L288 405.8M290.4 405.9L292.9 406M295.3 406.1L297.9 406.3M300.3 406.4L302.8 406.5M305.2 406.7L307.8 406.8M310.2 407L312.7 407.2M315.1 407.4L315.9 407.4" stroke="#f00" stroke-width="0.7" transform="translate(0,0.2)"/>
<path d="M132 404.5L136.6 404.6M141 404.7L145.6 404.7M150 404.8L154.6 404.8M159 404.8L163.6 404.8M168 404.9L172.6 404.9M177 404.9L181.6 404.8M186 404.8L190.6 404.8M195 404.8L199.6 404.8M204 404.8L208.6 404.7M213 404.7L217.6 404.7M222 404.7L226.6 404.7M231 404.7L235.6 404.7M240 404.7L244.6 404.8M249 404.8L253.6 404.9M258 404.9L262.6 405M267 405.1L271.6 405.2M276 405.3L280.6 405.5M285 405.7L289.6 405.8M294 406.1L298.6 406.3M303 406.5L307.6 406.8M312 407.1L315.9 407.4" stroke="#000" stroke-width="1.05"/>
<path d="M132 436.8L133.2 436.8M134.2 436.8L135.4 436.8M136.4 436.8L137.6 436.8M138.6 436.8L139.8 436.8M140.8 436.8L142 436.8M143 436.8L144.2 436.8M145.2 436.8L146.4 436.8M147.4 436.8L148.6 436.8M149.6 436.8L150.8 436.8M151.8 436.9L153 436.9M154 436.9L155.2 436.9M156.2 436.9L157.4 436.9M158.4 436.9L159.6 436.9M160.6 436.9L161.8 436.9M162.8 436.9L164 436.9M165 436.9L166.2 436.9M167.2 436.9L168.4 436.9M169.4 436.9L170.6 436.9M171.6 436.9L172.8 436.9M173.8 436.9L175 436.9M176 436.9L177.2 436.9M178.2 436.9L179.4 436.9M180.4 436.9L181.6 436.9M182.6 436.9L183.8 436.9M184.8 436.9L186 436.9M187 436.9L188.2 436.9M189.2 436.9L190.4 436.9M191.4 436.9L192.6 436.9M193.6 436.9L194.8 436.9M195.8 436.9L197 436.9M198 436.9L199.2 436.9M200.2 436.9L201.4 436.9M202.4 436.9L203.6 436.9M204.6 436.9L205.8 436.9M206.8 437L208 437M209 437L210.2 437M211.2 437L212.4 437M213.4 437L214.6 437M215.6 437L216.8 437M217.8 437L219 437M220 437L221.2 437M222.2 437L223.4 437M224.4 437L225.6 437M226.6 437L227.8 437M228.8 437L230 437M231 437L232.2 437M233.2 437.1L234.4 437.1M235.4 437.1L236.6 437.1M237.6 437.1L238.8 437.1M239.8 437.1L241 437.1M242 437.1L243.2 437.1M244.2 437.1L245.4 437.1M246.4 437.1L247.6 437.2M248.6 437.2L249.8 437.2M250.8 437.2L252 437.2M253 437.2L254.2 437.2M255.2 437.2L256.4 437.2M257.4 437.2L258.6 437.3M259.6 437.3L260.8 437.3M261.8 437.3L263 437.3M264 437.3L265.2 437.3M266.2 437.3L267.4 437.4M268.4 437.4L269.6 437.4M270.6 437.4L271.8 437.4M272.8 437.4L274 437.5M275 437.5L276.2 437.5M277.2 437.5L278.4 437.5M279.4 437.5L280.6 437.6M281.6 437.6L282.8 437.6M283.8 437.6L285 437.6M286 437.6L287.2 437.7M288.2 437.7L289.4 437.7M290.4 437.7L291.6 437.8M292.6 437.8L293.8 437.8M294.8 437.8L296 437.9M297 437.9L298.2 437.9M299.2 437.9L300.4 438M301.4 438L302.6 438M303.6 438L304.8 438.1M305.8 438.1L307 438.1M308 438.1L309.2 438.2M310.2 438.2L311.4 438.2M312.4 438.3L313.6 438.3M314.6 438.3L315.8 438.4" stroke="#00f" stroke-opacity="0.8" stroke-width="0.95"/>
<path d="M132 436.8L133 436.8M134.2 436.8L135.2 436.8M136.4 436.8L137.4 436.8M138.6 436.8L139.6 436.8M140.8 436.8L141.8 436.8M143 436.8L144 436.8M145.2 436.8L146.2 436.8M147.4 436.8L148.4 436.8M149.6 436.8L150.6 436.8M151.8 436.9L152.8 436.9M154 436.9L155 436.9M156.2 436.9L157.2 436.9M158.4 436.9L159.4 436.9M160.6 436.9L161.6 436.9M162.8 436.9L163.8 436.9M165 436.9L166 436.9M167.2 436.9L168.2 436.9M169.4 436.9L170.4 436.9M171.6 436.9L172.6 436.9M173.8 436.9L174.8 436.9M176 436.9L177 436.9M178.2 436.9L179.2 436.9M180.4 436.9L181.4 436.9M182.6 436.9L183.6 436.9M184.8 436.9L185.8 436.9M187 436.9L188 436.9M189.2 436.9L190.2 436.9M191.4 436.9L192.4 436.9M193.6 436.9L194.6 436.9M195.8 436.9L196.8 436.9M198 436.9L199 436.9M200.2 436.9L201.2 436.9M202.4 436.9L203.4 436.9M204.6 436.9L205.6 436.9M206.8 437L207.8 437M209 437L210 437M211.2 437L212.2 437M213.4 437L214.4 437M215.6 437L216.6 437M217.8 437L218.8 437M220 437L221 437M222.2 437L223.2 437M224.4 437L225.4 437M226.6 437L227.6 437M228.8 437L229.8 437M231 437L232 437M233.2 437.1L234.2 437.1M235.4 437.1L236.4 437.1M237.6 437.1L238.6 437.1M239.8 437.1L240.8 437.1M242 437.1L243 437.1M244.2 437.1L245.2 437.1M246.4 437.1L247.4 437.2M248.6 437.2L249.6 437.2M250.8 437.2L251.8 437.2M253 437.2L254 437.2M255.2 437.2L256.2 437.2M257.4 437.2L258.4 437.3M259.6 437.3L260.6 437.3M261.8 437.3L262.8 437.3M264 437.3L265 437.3M266.2 437.3L267.2 437.4M268.4 437.4L269.4 437.4M270.6 437.4L271.6 437.4M272.8 437.4L273.8 437.4M275 437.5L276 437.5M277.2 437.5L278.2 437.5M279.4 437.5L280.4 437.6M281.6 437.6L282.6 437.6M283.8 437.6L284.8 437.6M286 437.6L287 437.7M288.2 437.7L289.2 437.7M290.4 437.7L291.4 437.8M292.6 437.8L293.6 437.8M294.8 437.8L295.8 437.8M297 437.9L298 437.9M299.2 437.9L300.2 437.9M301.4 438L302.4 438M303.6 438L304.6 438.1M305.8 438.1L306.8 438.1M308 438.1L309 438.2M310.2 438.2L311.2 438.2M312.4 438.3L313.4 438.3M314.6 438.3L315.6 438.4" stroke="#f00" stroke-width="0.7" transform="translate(0,0.2)"/>
<path d="M132 436.8L133.9 436.8M136 436.8L137.9 436.8M140 436.8L141.9 436.8M144 436.8L145.9 436.8M148 436.8L149.9 436.8M152 436.9L153.9 436.9M156 436.9L157.9 436.9M160 436.9L161.9 436.9M164 436.9L165.9 436.9M168 436.9L169.9 436.9M172 436.9L173.9 436.9M176 436.9L177.9 436.9M180 436.9L181.9 436.9M184 436.9L185.9 436.9M188 436.9L189.9 436.9M192 436.9L193.9 436.9M196 436.9L197.9 436.9M200 436.9L201.9 436.9M204 436.9L205.9 436.9M208 437L209.9 437M212 437L213.9 437M216 437L217.9 437M220 437L221.9 437M224 437L225.9 437M228 437L229.9 437M232 437L233.9 437.1M236 437.1L237.9 437.1M240 437.1L241.9 437.1M244 437.1L245.9 437.1M248 437.2L249.9 437.2M252 437.2L253.9 437.2M256 437.2L257.9 437.2M260 437.3L261.9 437.3M264 437.3L265.9 437.3M268 437.4L269.9 437.4M272 437.4L273.9 437.4M276 437.5L277.9 437.5M280 437.5L281.9 437.6M284 437.6L285.9 437.6M288 437.7L289.9 437.7M292 437.8L293.9 437.8M296 437.9L297.9 437.9M300 437.9L301.9 438M304 438L305.9 438.1M308 438.1L309.9 438.2M312 438.2L313.9 438.3" stroke="#000" stroke-width="0.95"/>
</g>
<g stroke="#000" stroke-width="1.3" fill="none">
<path d="M102 179V470.3M101.4 469.7H420M95.8 179.6H102M98.7 247.2H102M98.7 230.2H102M98.7 218.1H102M98.7 208.7H102M98.7 201.1H102M98.7 194.6H102M98.7 189H102M98.7 184H102M95.8 276.3H102M98.7 343.9H102M98.7 326.9H102M98.7 314.8H102M98.7 305.4H102M98.7 297.8H102M98.7 291.3H102M98.7 285.7H102M98.7 280.7H102M95.8 373H102M98.7 440.6H102M98.7 423.6H102M98.7 411.5H102M98.7 402.1H102M98.7 394.5H102M98.7 388H102M98.7 382.4H102M98.7 377.4H102M95.8 469.7H102M168.3 469.7V476.2M295.5 469.7V476.2M101.8 469.7V473.2M117.7 469.7V473.2M130 469.7V473.2M140.1 469.7V473.2M148.6 469.7V473.2M156 469.7V473.2M162.5 469.7V473.2M206.6 469.7V473.2M229 469.7V473.2M244.9 469.7V473.2M257.2 469.7V473.2M267.3 469.7V473.2M275.8 469.7V473.2M283.2 469.7V473.2M289.7 469.7V473.2M333.8 469.7V473.2M356.2 469.7V473.2M372.1 469.7V473.2M384.4 469.7V473.2M394.5 469.7V473.2M403 469.7V473.2M410.4 469.7V473.2M416.9 469.7V473.2"/>
</g>
<text x="92.9" y="185.4" text-anchor="end" font-size="14.6" letter-spacing="0.1">10<tspan font-size="9.3" dx="-0.7" dy="-6.6" letter-spacing="0">0</tspan></text>
<text x="92.9" y="282.1" text-anchor="end" font-size="14.6" letter-spacing="0.1">10<tspan font-size="9.3" dx="-0.7" dy="-6.6" letter-spacing="0">-1</tspan></text>
<text x="92.9" y="378.8" text-anchor="end" font-size="14.6" letter-spacing="0.1">10<tspan font-size="9.3" dx="-0.7" dy="-6.6" letter-spacing="0">-2</tspan></text>
<text x="92.9" y="475.5" text-anchor="end" font-size="14.6" letter-spacing="0.1">10<tspan font-size="9.3" dx="-0.7" dy="-6.6" letter-spacing="0">-3</tspan></text>
<text x="159.7" y="492.8" font-size="14.6" letter-spacing="0.1">10<tspan font-size="9.3" dx="-0.7" dy="-6.6" letter-spacing="0">1</tspan></text>
<text x="286.9" y="492.8" font-size="14.6" letter-spacing="0.1">10<tspan font-size="9.3" dx="-0.7" dy="-6.6" letter-spacing="0">2</tspan></text>
<text x="413.9" y="492.8" font-size="14.6" letter-spacing="0.1">10<tspan font-size="9.3" dx="-0.7" dy="-6.6" letter-spacing="0">3</tspan></text>
<text x="283.8" y="519.8" font-size="22"><tspan font-style="italic">E</tspan>(μK)</text>
<g transform="translate(67.3,354) rotate(-90)"><text x="-0.7" y="-0.3" font-size="22.5" font-style="italic" stroke="#000" stroke-width="0.5" transform="skewX(-6)">r</text><text x="8.7" y="8.9" font-size="13.6">3</text><g font-size="12.5"><text x="15.6" y="-11.6">(</text><text x="22.0" y="-11.6" font-style="italic">f</text><text x="37.8" y="-11.6" font-style="italic">i</text><text x="41.2" y="-11.6">)</text></g><path d="M37.2 -16.7H25.8M31.2 -18.5L25.7 -16.7L31.2 -14.9" fill="none" stroke="#000" stroke-width="0.8"/></g>
</svg>
</body></html>
